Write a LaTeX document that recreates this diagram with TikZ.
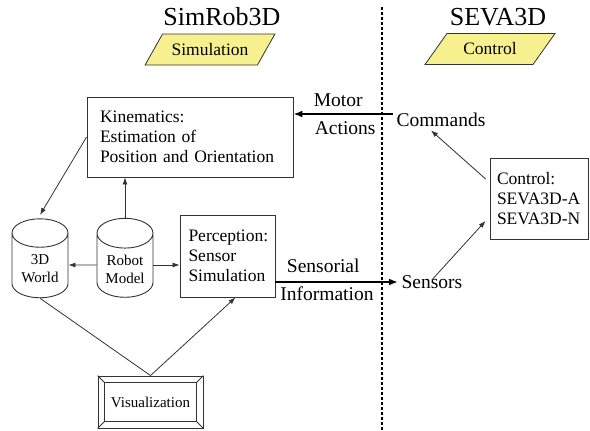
\documentclass[tikz,border=0pt]{standalone}
\usepackage{fontspec}
\setmainfont{Liberation Serif}
\usetikzlibrary{arrows.meta, shapes.geometric, calc}
\definecolor{ink}{HTML}{333333}
\definecolor{softyellow}{HTML}{F7F08E}

\begin{document}
\begin{tikzpicture}[
  x=1pt, y=-1pt,
  box/.style={draw=ink, line width=0.9pt, rectangle, align=left, inner xsep=0pt, font=\fontsize{17.5}{20}\selectfont},
  store/.style={draw=ink, line width=0.9pt, cylinder, shape border rotate=90, aspect=0.65, minimum width=56, minimum height=79, align=center, font=\fontsize{15}{18}\selectfont},
  tag/.style={draw=ink, line width=0.8pt, fill=softyellow, trapezium, trapezium left angle=51, trapezium right angle=129, trapezium stretches=true, minimum width=130, minimum height=31, font=\fontsize{17.5}{20}\selectfont},
  title/.style={font=\fontsize{26}{30}\selectfont},
  lbl/.style={font=\fontsize{19.5}{22}\selectfont},
  edgetext/.style={font=\fontsize{19.5}{22}\selectfont},
  link/.style={draw=ink, line width=0.8pt, -{Latex[length=7pt, width=5pt]}},
  flow/.style={line width=2.4pt, -{Latex[length=9pt, width=7pt]}}
]
\useasboundingbox (0,0) rectangle (590,431);

\node[title] (simrob) at (222,17) {SimRob3D};
\node[title] (seva) at (498,17) {SEVA3D};
\node[tag] (sim) at (210,49.5) {Simulation};
\node[tag] (ctl) at (490,49) {Control};

\draw[line width=2.8pt, dash pattern=on 2.6pt off 2.4pt] (382,7) -- (382,431);

\node[box, minimum width=206, minimum height=80, text width=180] (kin) at (190,137) {Kinematics:\\Estimation of\\Position and Orientation};
\node[box, minimum width=95, minimum height=82, text width=78] (percep) at (227.5,256) {Perception:\\Sensor\\Simulation};
\node[box, minimum width=98, minimum height=81, text width=84] (ctrl) at (539,198.5) {Control:\\SEVA3D-A\\SEVA3D-N};
\node[store] (world) at (40,269) {3D\\World};
\node[store] (robot) at (125,269) {Robot\\Model};
\node[draw=ink, line width=0.9pt, minimum width=105, minimum height=52, font=\fontsize{15}{18}\selectfont] (viz) at (150.5,402) {Visualization};
\draw[ink, line width=0.8pt] ($(viz.north west)+(7,7)$) rectangle ($(viz.south east)+(-7,-7)$);
\foreach \c/\dx/\dy in {north west/7/7, north east/-7/7, south west/7/-7, south east/-7/-7}
  \draw[ink, line width=0.8pt] (viz.\c) -- ++(\dx,\dy);

\node[lbl, anchor=west] (cmd) at (393,120) {Commands};
\node[lbl, anchor=west] (sens) at (398,282) {Sensors};

\draw[flow] ([yshift=6pt]cmd.west) -- node[edgetext, above, inner sep=6pt, pos=0.55] {Motor} node[edgetext, below, inner sep=6pt, pos=0.48] {Actions} ([yshift=6pt]cmd.west -| kin.east);
\draw[flow] (percep.east |- sens.west) -- node[edgetext, above, inner sep=8pt, pos=0.39] {Sensorial} node[edgetext, below, inner sep=4pt, pos=0.42] {Information} (sens.west);

\draw[link, shorten >=4pt] (kin.west) -- ([xshift=-2pt]world.north);
\draw[link] (robot.north) -- (robot.north |- kin.south);
\draw[link] ([yshift=4pt]robot.west) -- ([yshift=4pt]world.east);
\draw[link] ([yshift=4pt]robot.east) -- ([yshift=4pt]robot.east -| percep.west);
\draw[ink, line width=0.8pt] (world.south) -- (viz.north);
\draw[link] (viz.north) -- ([xshift=8pt]percep.south);
\draw[link, shorten <=5pt] ([yshift=16pt]ctrl.west) -- ([xshift=-10pt]cmd.south);
\draw[link, shorten >=6pt] ([yshift=-8pt]sens.north) -- ([yshift=-18pt]ctrl.west);
\end{tikzpicture}
\end{document}
